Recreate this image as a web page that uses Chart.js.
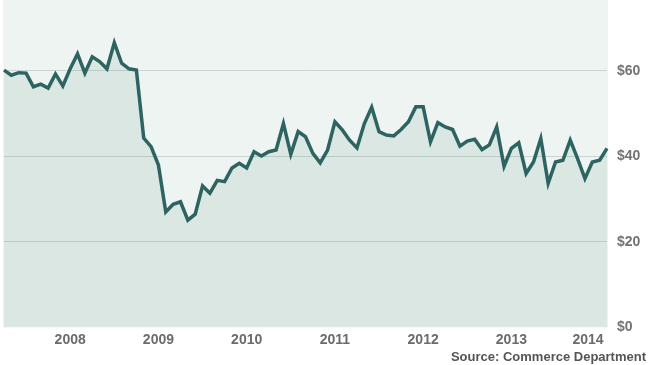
<!DOCTYPE html>
<html><head><meta charset="utf-8">
<script src="https://cdn.jsdelivr.net/npm/chart.js@4/dist/chart.umd.min.js"></script>
<style>html,body{margin:0;padding:0;background:#fff;}#wrap{width:650px;height:365px;position:relative;}</style>
</head><body>
<div id="wrap"><canvas id="c" width="650" height="365"></canvas></div>
<script>
const months = [
"2007-04","2007-05","2007-06","2007-07","2007-08","2007-09","2007-10","2007-11","2007-12",
"2008-01","2008-02","2008-03","2008-04","2008-05","2008-06","2008-07","2008-08","2008-09","2008-10","2008-11","2008-12",
"2009-01","2009-02","2009-03","2009-04","2009-05","2009-06","2009-07","2009-08","2009-09","2009-10","2009-11","2009-12",
"2010-01","2010-02","2010-03","2010-04","2010-05","2010-06","2010-07","2010-08","2010-09","2010-10","2010-11","2010-12",
"2011-01","2011-02","2011-03","2011-04","2011-05","2011-06","2011-07","2011-08","2011-09","2011-10","2011-11","2011-12",
"2012-01","2012-02","2012-03","2012-04","2012-05","2012-06","2012-07","2012-08","2012-09","2012-10","2012-11","2012-12",
"2013-01","2013-02","2013-03","2013-04","2013-05","2013-06","2013-07","2013-08","2013-09","2013-10","2013-11","2013-12",
"2014-01","2014-02"
];
const values = [
60.2,59.0,59.6,59.5,56.3,56.9,56.0,59.3,56.5,
60.5,64.0,59.5,63.3,62.2,60.5,66.6,61.8,60.5,60.2,44.3,42.3,
38.0,27.0,28.8,29.4,25.1,26.5,33.1,31.4,34.4,34.1,37.3,38.4,
37.3,41.1,40.1,41.1,41.5,47.7,40.5,45.8,44.6,40.7,38.5,41.5,
48.1,46.2,43.8,42.0,47.7,51.5,45.8,45.0,44.8,46.3,48.1,51.6,
51.6,43.4,47.9,46.9,46.3,42.4,43.6,44.0,41.6,42.7,46.9,37.7,
41.9,43.2,36.0,38.7,44.2,33.7,38.7,39.1,43.8,39.5,34.8,38.7,
39.1,41.9
];
const yTickValues = [0,20,40,60];
const sourceText = "Source: Commerce Department";

const plotBg = {
  id: 'plotBg',
  beforeDraw(chart) {
    const {ctx, chartArea: a} = chart;
    ctx.save();
    ctx.fillStyle = '#eef4f1';
    ctx.fillRect(a.left - 1, a.top, a.right - a.left + 2, a.bottom - a.top);
    ctx.restore();
  }
};

const fontFam = '"Liberation Sans", Arial, sans-serif';

new Chart(document.getElementById('c'), {
  type: 'line',
  data: {
    labels: months,
    datasets: [{
      data: values,
      borderColor: '#2d6462',
      borderWidth: 3.5,
      borderJoinStyle: 'miter',
      tension: 0,
      pointRadius: 0,
      fill: 'origin',
      backgroundColor: 'rgba(58,114,101,0.10)'
    }]
  },
  options: {
    responsive: false,
    animation: false,
    layout: { padding: { left: 4, right: 4, top: 0, bottom: 0 } },
    plugins: {
      legend: { display: false },
      tooltip: { enabled: false },
      title: {
        display: true,
        text: sourceText,
        position: 'bottom',
        align: 'end',
        color: '#555555',
        font: { family: fontFam, size: 13, weight: 'bold' },
        padding: { top: 2, bottom: 0 }
      }
    },
    scales: {
      x: {
        offset: false,
        grid: { display: false, drawTicks: false },
        border: { display: false },
        afterFit: s => { s.height = 20; s.paddingLeft = 0; s.paddingRight = 0; },
        ticks: {
          autoSkip: false,
          maxRotation: 0,
          padding: 4,
          color: '#6b6b6b',
          font: { family: fontFam, size: 14, weight: 'bold' },
          callback: function(v, i, arr) {
            const l = this.getLabelForValue(v);
            if (!l.endsWith('-01')) return null;
            const yr = l.slice(0, 4);
            return (i >= arr.length - 2) ? yr + '      ' : yr;
          }
        }
      },
      y: {
        position: 'right',
        min: 0,
        max: 76.6,
        afterBuildTicks: s => { s.ticks = yTickValues.map(v => ({ value: v })); },
        afterFit: s => { s.width = 39; s.paddingTop = 0; s.paddingBottom = 0; },
        grid: {
          drawTicks: false,
          color: c => (c.tick && c.tick.value === 0) ? 'rgba(0,0,0,0)' : '#c8d5d1',
          lineWidth: 1
        },
        border: { display: false },
        ticks: {
          padding: 10,
          color: '#737373',
          font: { family: fontFam, size: 14, weight: 'bold' },
          callback: v => '$' + v
        }
      }
    }
  },
  plugins: [plotBg]
});
</script>
</body></html>
